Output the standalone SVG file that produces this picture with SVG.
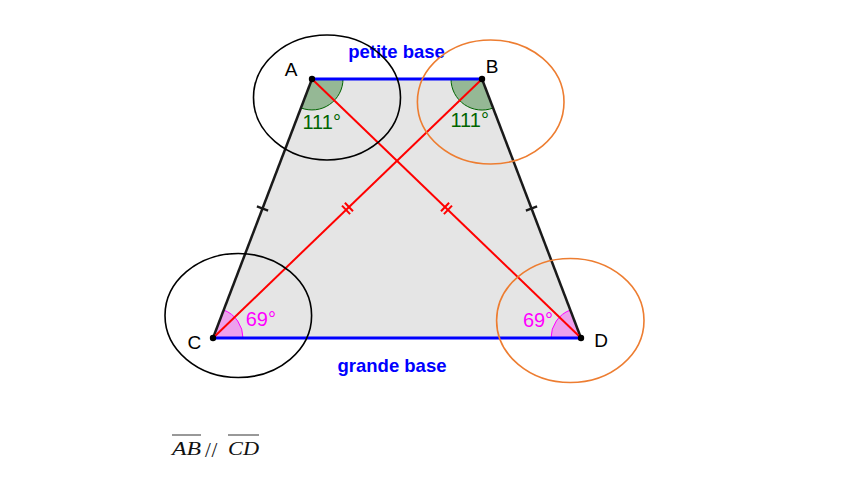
<svg xmlns="http://www.w3.org/2000/svg" width="849" height="492" viewBox="0 0 849 492">
<style>
.lbl{font-family:"Liberation Sans",Arial,sans-serif;font-size:19px;fill:#000;text-anchor:middle}
.ang{font-family:"Liberation Sans",Arial,sans-serif;font-size:20px;text-anchor:middle}
.g{fill:#006400}
.m{fill:#ff00ff}
.base{font-family:"Liberation Sans",Arial,sans-serif;font-size:18.5px;font-weight:bold;fill:#0000ff;text-anchor:middle}
.secg{fill:#006400;fill-opacity:0.35;stroke:#006400;stroke-width:1}
.secm{fill:#ff00ff;fill-opacity:0.3;stroke:#ff00ff;stroke-width:1}
.pt{fill:#000}
.eb{fill:none;stroke:#000;stroke-width:1.6}
.eo{fill:none;stroke:#ed7d31;stroke-width:1.6}
.side{stroke:#1a1a1a;stroke-width:2.5}
.bas{stroke:#0000ff;stroke-width:3}
.diag{stroke:#ff0000;stroke-width:2}
.tk{stroke:#1a1a1a;stroke-width:2.2}
.tr{stroke:#ff0000;stroke-width:2}
.math{font-family:"Liberation Serif","Times New Roman",serif;font-size:19px;font-style:italic;fill:#111}
.sl{font-family:"Liberation Serif","Times New Roman",serif;font-size:21px;fill:#111}
</style>
<rect width="849" height="492" fill="#fff"/>
<polygon id="trapeze" points="312,79 482,79 581,338 213,338" fill="#e5e5e5"/>
<g id="angles">
<path class="secg" d="M312,79 L343,79 A31,31 0 0 1 300.9,107.9 Z"/>
<path class="secg" d="M482,79 L493.1,108 A31,31 0 0 1 451,79 Z"/>
<path class="secm" d="M213,338 L223.7,310 A30,30 0 0 1 243,338 Z"/>
<path class="secm" d="M581,338 L551,338 A30,30 0 0 1 570.3,310 Z"/>
</g>
<g id="connectors">
<line class="bas" x1="312" y1="79" x2="482" y2="79"/>
<line class="bas" x1="213" y1="338" x2="581" y2="338"/>
<line class="side" x1="312" y1="79" x2="213" y2="338"/>
<line class="side" x1="482" y1="79" x2="581" y2="338"/>
<line class="diag" x1="312" y1="79" x2="581" y2="338"/>
<line class="diag" x1="482" y1="79" x2="213" y2="338"/>
<line class="tk" x1="256.9" y1="206.4" x2="268.1" y2="210.6"/>
<line class="tk" x1="525.9" y1="210.6" x2="537.1" y2="206.4"/>
<line class="tr" x1="342" y1="205.6" x2="350.1" y2="214.1"/>
<line class="tr" x1="344.9" y1="202.8" x2="353" y2="211.3"/>
<line class="tr" x1="443.9" y1="214.1" x2="452" y2="205.6"/>
<line class="tr" x1="441" y1="211.3" x2="449.1" y2="202.8"/>
</g>
<text class="base" x="396.5" y="58">petite base</text>
<text class="base" x="392" y="372">grande base</text>
<g id="A">
<circle class="pt" cx="312" cy="79" r="3.2"/>
<text class="lbl" x="291.2" y="76">A</text>
<text class="ang g" x="321.7" y="129">111°</text>
<ellipse class="eb" cx="327" cy="97.5" rx="73.5" ry="62.5"/>
</g>
<g id="B">
<circle class="pt" cx="482" cy="79" r="3.2"/>
<text class="lbl" x="492" y="73.3">B</text>
<text class="ang g" x="469.7" y="126.7">111°</text>
<ellipse class="eo" cx="490.7" cy="102" rx="73.3" ry="62"/>
</g>
<g id="C">
<circle class="pt" cx="213" cy="338" r="3.2"/>
<text class="lbl" x="194.3" y="349.3">C</text>
<text class="ang m" x="260.8" y="326">69°</text>
<ellipse class="eb" cx="238.3" cy="315.5" rx="73.3" ry="62"/>
</g>
<g id="D">
<circle class="pt" cx="581" cy="338" r="3.2"/>
<text class="lbl" x="601" y="346.7">D</text>
<text class="ang m" x="538" y="327.3">69°</text>
<ellipse class="eo" cx="570.3" cy="320.5" rx="73.7" ry="62"/>
</g>
<g id="formula">
<line x1="172" y1="435" x2="201" y2="435" stroke="#333" stroke-width="1"/>
<line x1="228" y1="435" x2="259" y2="435" stroke="#333" stroke-width="1"/>
<text class="math" x="172" y="455" textLength="29" lengthAdjust="spacingAndGlyphs">AB</text>
<text class="sl" x="205" y="457">/</text>
<text class="sl" x="211.5" y="457">/</text>
<text class="math" x="228" y="455" textLength="31" lengthAdjust="spacingAndGlyphs">CD</text>
</g>
</svg>
